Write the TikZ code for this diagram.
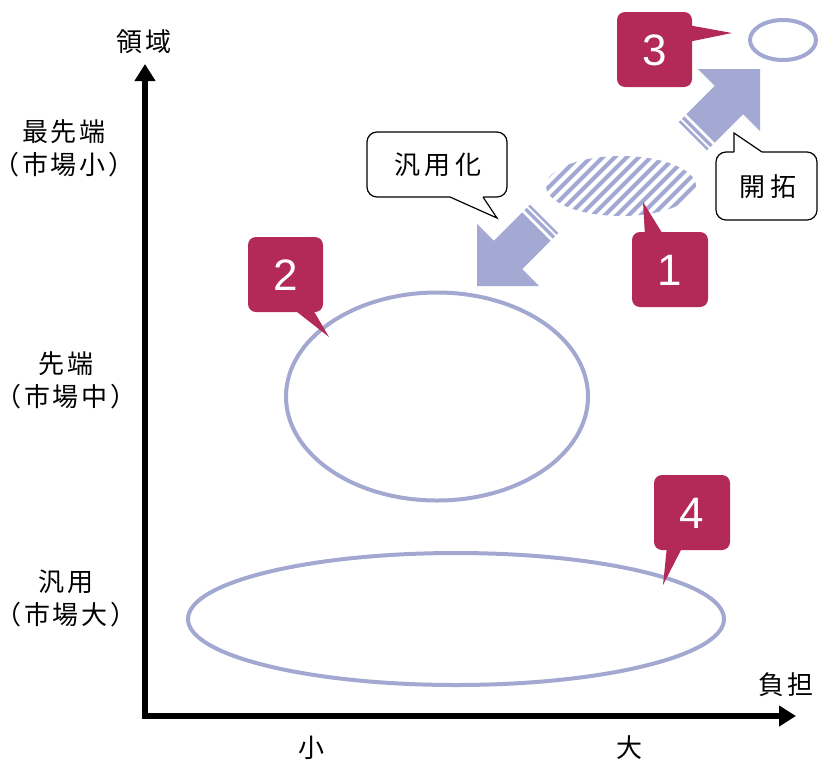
\documentclass[tikz,border=0pt]{standalone}
\usepackage{fontspec}
\setmainfont{Liberation Sans}
\newfontfamily\jp[LetterSpace=10]{Noto Sans CJK JP}
\newfontfamily\jpw[LetterSpace=16]{Noto Sans CJK JP}
\usetikzlibrary{arrows.meta}
\definecolor{lav}{HTML}{A3A8D0}
\definecolor{arw}{HTML}{A3A9D2}
\definecolor{mag}{HTML}{B32A58}
\newcommand{\paren}[1]{\kern-12pt（#1）\kern-12pt}
\begin{document}
\begin{tikzpicture}[x=1pt,y=-1pt,
  ring/.style={draw=lav, line width=4pt},
  badge/.style={fill=mag, rounded corners=8pt},
  num/.style={text=white, font=\fontsize{44}{44}\selectfont, inner sep=0pt},
  lbl/.style={font=\jp\fontsize{26}{33}\selectfont, align=center, inner sep=0pt},
  clbl/.style={font=\jpw\fontsize{26}{33}\selectfont, align=center, inner sep=0pt},
  axis/.style={line width=6pt, -{Triangle[width=20pt,length=17pt]}},
  callout/.style={draw=black, line width=1.2pt, fill=white, rounded corners=10pt}]
\useasboundingbox (0,0) rectangle (818,761);

% axes
\coordinate (o) at (145,716);
\coordinate (ytop) at (145,64);
\coordinate (xend) at (796,716);
\draw[axis] (o) -- (ytop);
\draw[axis] ([xshift=-3pt]o) -- (xend);

% axis labels
\node[lbl] (ylab) at (144,42) {領域};
\node[lbl] (xlab) at (786,685) {負担};
\node[lbl] (xs) at (311,748) {小};
\node[lbl] (xl) at (629,748) {大};
\node[lbl] (l1) at (64,148) {最先端\\\paren{市場小}};
\node[lbl] (l2) at (66,380) {先端\\\paren{市場中}};
\node[lbl] (l3) at (66,598) {汎用\\\paren{市場大}};

% ellipses
\draw[ring] (437,396.5) ellipse [x radius=151, y radius=104];
\draw[ring] (456,619) ellipse [x radius=268, y radius=66];
\draw[ring] (783,40) ellipse [x radius=33, y radius=20];

% hatched ellipse
\begin{scope}
  \clip (621,186) ellipse [x radius=75, y radius=30];
  \foreach \x in {470,482,...,730} {
    \draw[arw, line width=4pt] (\x,230) -- ++(90,-90);
  }
\end{scope}

% striped block arrows
\foreach \tx/\ty/\ang in {760/69/45, 477/286/225} {
  \begin{scope}[shift={(\tx,\ty)}, rotate=\ang]
    \fill[arw] (0,0) -- (-44,44) -- (-44,20) -- (-84,20) -- (-84,-20)
      -- (-44,-20) -- (-44,-44) -- cycle;
    \fill[arw] (-95,-20) rectangle (-92.5,20);
    \fill[arw] (-90.5,-20) rectangle (-87,20);
  \end{scope}
}

% white callouts
\draw[callout] (367,132) rectangle (507,197);
\fill[white] (450,194) -- (450,197) -- (497,218) -- (483,197) -- (483,194) -- cycle;
\draw[line width=1.2pt, line join=miter] (450,197) -- (497,218) -- (483,197);
\node[clbl] (gen) at (438,164.5) {汎用化};

\draw[callout] (716,152) rectangle (817,220);
\fill[white] (734,155) -- (734,152) -- (734,133) -- (762,152) -- (762,155) -- cycle;
\draw[line width=1.2pt, line join=miter] (734,152) -- (734,133) -- (762,152);
\node[clbl] (dev) at (768,187) {開拓};

% magenta badges
\fill[badge] (632,232) rectangle (708,307);
\fill[mag] (645,236) -- (664,236) -- (643,202) -- cycle;
\node[num] (n1) at (670,270) {1};

\fill[badge] (248,237) rectangle (323,312);
\fill[mag] (292,308) -- (312,308) -- (329,337) -- cycle;
\node[num] (n2) at (285.5,275) {2};

\fill[badge] (617,12) rectangle (692,87);
\fill[mag] (688,25) -- (688,42) -- (732,33) -- cycle;
\node[num] (n3) at (654.5,50) {3};

\fill[badge] (654,475) rectangle (730,550);
\fill[mag] (667,546) -- (683,546) -- (663,585) -- cycle;
\node[num] (n4) at (692,513) {4};
\end{tikzpicture}
\end{document}
